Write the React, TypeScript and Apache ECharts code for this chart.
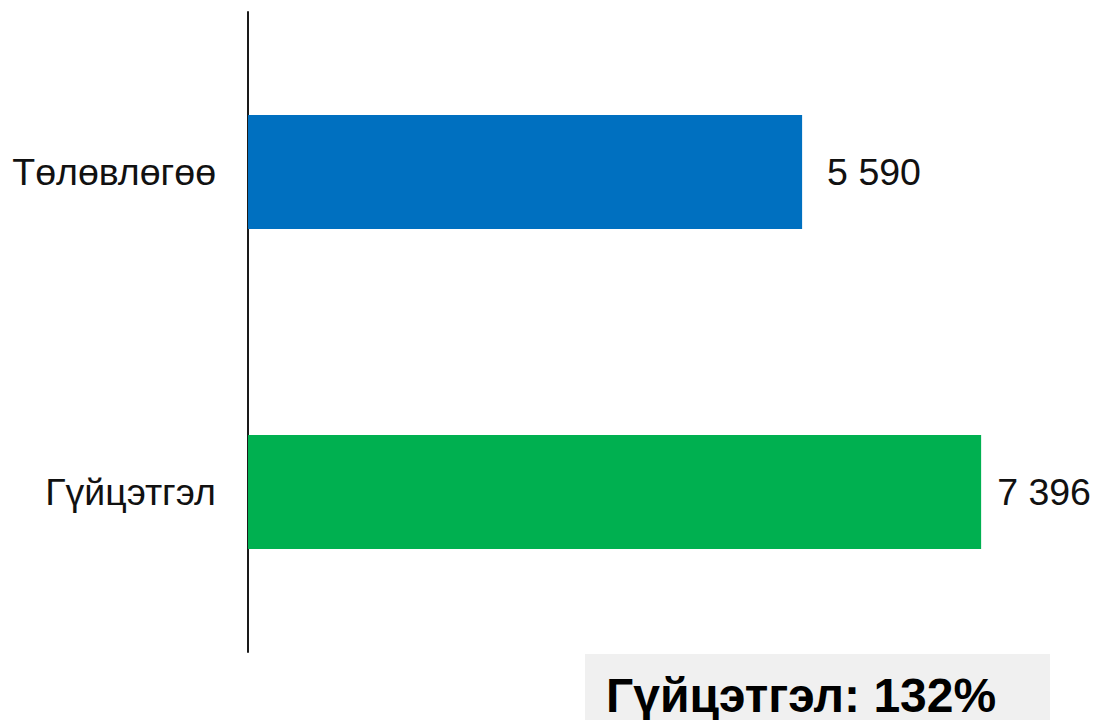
import React, { useEffect, useRef } from "react";
import * as echarts from "echarts";

const categories = ["Төлөвлөгөө", "Гүйцэтгэл"];
const values = [5590, 7396];
const barColors = ["#0070C0", "#00B050"];
const labelGaps = [25, 16];
const summaryText = "Гүйцэтгэл: 132%";

const fmt = (v: number) => String(v).replace(/\B(?=(\d{3})+(?!\d))/g, " ");

export default function App() {
  const ref = useRef<HTMLDivElement>(null);
  useEffect(() => {
    const chart = echarts.init(ref.current!, null, { renderer: "svg" });
    chart.setOption({
      animation: false,
      backgroundColor: "#ffffff",
      grid: { left: 248, top: 12, height: 640, right: 55 },
      xAxis: {
        type: "value",
        min: 0,
        max: 8000,
        show: false,
      },
      yAxis: {
        type: "category",
        data: categories,
        inverse: true,
        axisLine: { show: true, lineStyle: { color: "#1a1a1a", width: 2 } },
        axisTick: { show: false },
        axisLabel: {
          fontFamily: "Liberation Sans, Arial, sans-serif",
          fontSize: 37.5,
          color: "#111111",
          margin: 32,
        },
      },
      series: [
        {
          type: "bar",
          barWidth: 114,
          data: values.map((v, i) => ({
            value: v,
            itemStyle: { color: barColors[i] },
            label: { distance: labelGaps[i] },
          })),
          label: {
            show: true,
            position: "right",
            fontFamily: "Liberation Sans, Arial, sans-serif",
            fontSize: 37.5,
            color: "#111111",
            formatter: (p: any) => fmt(p.value),
          },
        },
      ],
      graphic: [
        {
          type: "rect",
          shape: { x: 585, y: 654, width: 465, height: 80 },
          style: { fill: "#F0F0F0" },
        },
        {
          type: "text",
          x: 606,
          y: 695,
          style: {
            text: summaryText,
            fontFamily: "Liberation Sans, Arial, sans-serif",
            fontSize: 48,
            fontWeight: "bold",
            fill: "#000000",
            verticalAlign: "middle",
            align: "left",
          },
        },
      ],
    });
    return () => chart.dispose();
  }, []);
  return (
    <div
      ref={ref}
      style={{ position: "fixed", left: 0, top: 0, width: 1096, height: 720 }}
    />
  );
}
